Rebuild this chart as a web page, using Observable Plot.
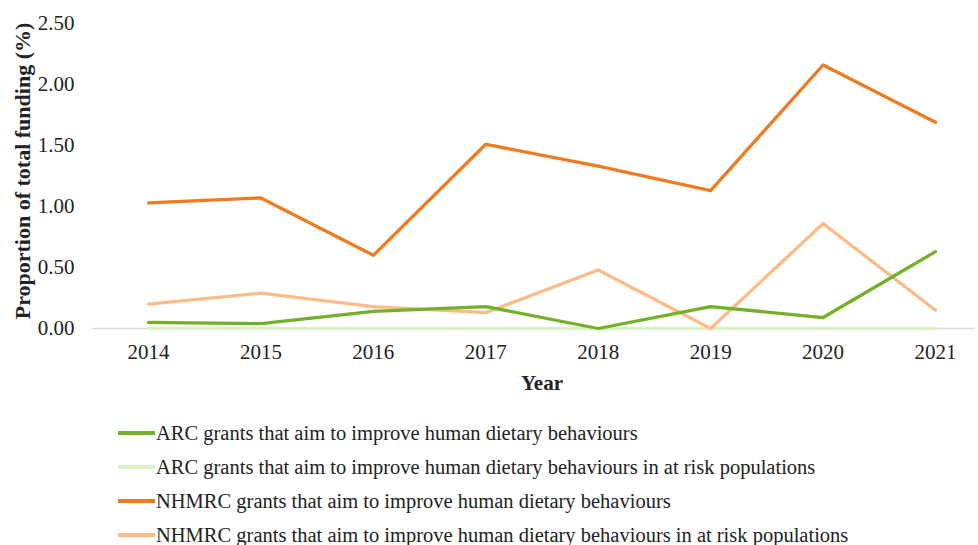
<!DOCTYPE html>
<html>
<head>
<meta charset="utf-8">
<script src="https://cdn.jsdelivr.net/npm/d3@7"></script>
<script src="https://cdn.jsdelivr.net/npm/@observablehq/plot@0.6"></script>
<style>
  body { margin: 0; background: #fff; font-family: "Liberation Serif", "Times New Roman", serif; }
  #chart svg { display: block; }
  .legend { margin-top: 16px; padding-left: 118px; }
  .legend .row { height: 34px; display: flex; align-items: center; font-size: 20.5px; color: #222; white-space: nowrap; }
  .legend .sw { width: 37px; height: 3.5px; margin-right: 1px; }
</style>
</head>
<body>
<div id="chart"></div>
<div class="legend" id="legend"></div>
<script>
const years = [2014, 2015, 2016, 2017, 2018, 2019, 2020, 2021];
const seriesNames = [
  "ARC grants that aim to improve human dietary behaviours",
  "ARC grants that aim to improve human dietary behaviours in at risk populations",
  "NHMRC grants that aim to improve human dietary behaviours",
  "NHMRC grants that aim to improve human dietary behaviours in at risk populations"
];
const arc        = [0.05, 0.04, 0.14, 0.18, 0.00, 0.18, 0.09, 0.63];
const arcRisk    = [0.00, 0.00, 0.00, 0.00, 0.00, 0.00, 0.00, 0.00];
const nhmrc      = [1.03, 1.07, 0.60, 1.51, 1.33, 1.13, 2.16, 1.69];
const nhmrcRisk  = [0.20, 0.29, 0.18, 0.13, 0.48, 0.00, 0.86, 0.15];
const seriesColors = ["#72b02a", "#dcf2c6", "#ee7a22", "#fdbb88"];
const yTicks = [0, 0.5, 1, 1.5, 2, 2.5];

const allSeries = [arc, arcRisk, nhmrc, nhmrcRisk];
const data = [];
allSeries.forEach((vals, si) => years.forEach((yr, i) => data.push({series: seriesNames[si], year: yr, value: vals[i]})));
const order = [1, 3, 0, 2];

const chart = Plot.plot({
  width: 978,
  height: 400,
  marginLeft: 92,
  marginRight: 3,
  marginTop: 23,
  marginBottom: 72,
  style: {fontFamily: "'Liberation Serif', 'Times New Roman', serif", fontSize: "21px", color: "#222", background: "#fff"},
  x: {domain: [2014, 2021], range: [148, 935]},
  y: {domain: [0, 2.5]},
  marks: [
    Plot.gridY([0], {stroke: "#d9d9d9", strokeOpacity: 1, strokeWidth: 1.3}),
    ...order.map(si => Plot.line(data.filter(d => d.series === seriesNames[si]), {
      x: "year", y: "value", stroke: seriesColors[si], strokeWidth: 3.3, strokeLinejoin: "round", strokeLinecap: "round"
    })),
    Plot.axisY({ticks: yTicks, tickFormat: d3.format(".2f"), tickSize: 0, tickPadding: 18, label: null, fontSize: 21}),
    Plot.axisX({ticks: years, tickFormat: d => String(d), tickSize: 0, tickPadding: 16, label: null, fontSize: 21}),
    Plot.text(["Proportion of total funding (%)"], {frameAnchor: "left", textAnchor: "middle", dx: -70, dy: -5, rotate: -90, fontWeight: "bold", fontSize: 22, fill: "#222"}),
    Plot.text(["Year"], {frameAnchor: "bottom", dx: 8, dy: 61, fontWeight: "bold", fontSize: 21, fill: "#222"})
  ]
});
document.getElementById("chart").appendChild(chart);

const legend = document.getElementById("legend");
seriesNames.forEach((name, i) => {
  const row = document.createElement("div");
  row.className = "row";
  const sw = document.createElement("span");
  sw.className = "sw";
  sw.style.background = seriesColors[i];
  const t = document.createElement("span");
  t.textContent = name;
  row.appendChild(sw); row.appendChild(t);
  legend.appendChild(row);
});
</script>
</body>
</html>
